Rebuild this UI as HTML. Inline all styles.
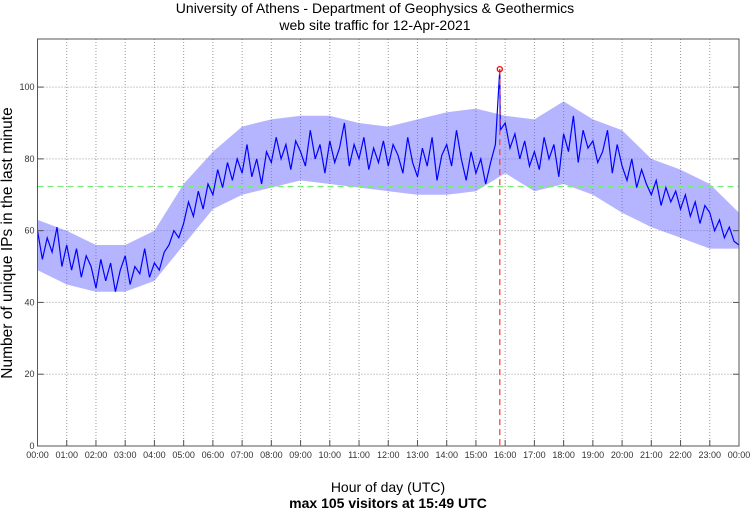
<!DOCTYPE html>
<html><head><meta charset="utf-8"><style>
body{margin:0;background:#fff;}
svg text{font-family:"Liberation Sans",sans-serif;}
</style></head><body>
<svg id="chart" width="750" height="511" xmlns="http://www.w3.org/2000/svg">
<rect width="750" height="511" fill="#fff"/>
<text x="375" y="13" font-size="14" text-anchor="middle">University of Athens - Department of Geophysics &amp; Geothermics</text>
<text x="375" y="30" font-size="14" text-anchor="middle">web site traffic for 12-Apr-2021</text>
<g id="grid"></g>
<g id="series"></g>
<g id="axes"></g>
<text x="388" y="492" font-size="14" text-anchor="middle">Hour of day (UTC)</text>
<text x="388" y="508" font-size="14" font-weight="bold" text-anchor="middle">max 105 visitors at 15:49 UTC</text>
<text transform="translate(12,243) rotate(-90)" font-size="15.5" text-anchor="middle">Number of unique IPs in the last minute</text>
</svg>
<script>
const yTicks=[0,20,40,60,80,100];
const xTickLabels=["00:00","01:00","02:00","03:00","04:00","05:00","06:00","07:00","08:00","09:00","10:00","11:00","12:00","13:00","14:00","15:00","16:00","17:00","18:00","19:00","20:00","21:00","22:00","23:00","00:00"];
const visitors=[60,52,58,54,61,50, 56,49,55,47,53,50, 44,52,46,51,43,49, 53,45,50,48,55,47,
51,49,54,56,60,58, 62,68,64,71,66,73, 70,77,72,79,74,80, 76,84,75,80,73,82,
79,86,80,84,77,85, 82,78,88,80,84,76, 85,79,83,90,78,84, 80,86,77,83,79,85,
78,84,81,76,86,79, 75,83,78,86,74,81, 84,78,88,80,74,82, 76,80,73,79,84,88,
90,83,87,80,85,78, 82,77,86,80,84,75, 87,82,92,79,88,83, 85,79,82,88,76,84,
78,74,80,72,77,73, 70,74,67,72,68,71, 66,70,64,68,62,67, 65,60,63,58,61,57, 56];
const hourlyLow=[49,45,43,43,46,56,66,70,72,74,73,72,71,70,70,71,76,71,73,70,65,61,58,55,55];
const hourlyHigh=[63,60,56,56,60,73,82,89,91,92,92,90,89,91,93,94,92,91,96,91,88,80,77,73,65];
const stepMinutes=10;
const maxValue=105, maxMinute=949, meanValue=72.3;
const X0=37.5,X1=739,Y0=446,YTOP=39,YMAX=113.4;
const sx=m=>X0+(X1-X0)*m/1440;
const sy=v=>Y0-(Y0-YTOP)*v/YMAX;
const NS="http://www.w3.org/2000/svg";
function mk(t,a,p){const e=document.createElementNS(NS,t);for(const k in a)e.setAttribute(k,a[k]);p.appendChild(e);return e;}
const grid=document.getElementById('grid'),axes=document.getElementById('axes'),ser=document.getElementById('series');
for(let h=1;h<24;h++){const l=mk('line',{x1:sx(h*60),x2:sx(h*60),y1:YTOP,y2:Y0,stroke:'#999','stroke-dasharray':'1,2','stroke-width':1},grid);

}
yTicks.forEach(v=>{if(v===0)return;const l=mk('line',{x1:X0,x2:X1,y1:sy(v),y2:sy(v),stroke:'#999','stroke-dasharray':'1,2','stroke-width':1},grid);

});
const bandPts=hourlyHigh.map((v,h)=>sx(h*60).toFixed(1)+','+sy(v).toFixed(1)).concat(hourlyLow.map((v,h)=>sx(h*60).toFixed(1)+','+sy(v).toFixed(1)).reverse()).join(' ');
const band=mk('polygon',{points:bandPts,fill:'#5a5aff','fill-opacity':0.45,stroke:'none'},ser);


const m=mk('line',{x1:X0,x2:X1,y1:sy(meanValue),y2:sy(meanValue),stroke:'#7e7','stroke-dasharray':'6,4','stroke-width':1.3},ser);


let pts=visitors.map((v,i)=>[i*stepMinutes,v]);
pts.push([maxMinute,maxValue]);pts.sort((a,b)=>a[0]-b[0]);
const pl=mk('polyline',{points:pts.map(p=>sx(p[0]).toFixed(1)+','+sy(p[1]).toFixed(1)).join(' '),fill:'none',stroke:'#00f','stroke-width':1.2},ser);


const ml=mk('line',{x1:sx(maxMinute),x2:sx(maxMinute),y1:sy(maxValue),y2:Y0,stroke:'#f33','stroke-dasharray':'6,4','stroke-width':1.2},ser);


const mc=mk('circle',{cx:sx(maxMinute),cy:sy(maxValue),r:2.5,fill:'none',stroke:'#f00','stroke-width':1.3},ser);


const fr=mk('rect',{x:X0,y:YTOP,width:X1-X0,height:Y0-YTOP,fill:'none',stroke:'#555','stroke-width':1},axes);


yTicks.forEach(v=>{mk('line',{x1:X0,x2:X0+6,y1:sy(v),y2:sy(v),stroke:'#555'},axes);mk('line',{x1:X1-6,x2:X1,y1:sy(v),y2:sy(v),stroke:'#555'},axes);
const t=mk('text',{x:X0-3,y:sy(v)+3,'font-size':9,'text-anchor':'end',fill:'#333'},axes);t.textContent=v;

});
xTickLabels.forEach((s,h)=>{mk('line',{x1:sx(h*60),x2:sx(h*60),y1:Y0-6,y2:Y0,stroke:'#555'},axes);
const t=mk('text',{x:sx(h*60),y:Y0+12,'font-size':9,'text-anchor':'middle',fill:'#333'},axes);t.textContent=s;

});
</script>
</body></html>
